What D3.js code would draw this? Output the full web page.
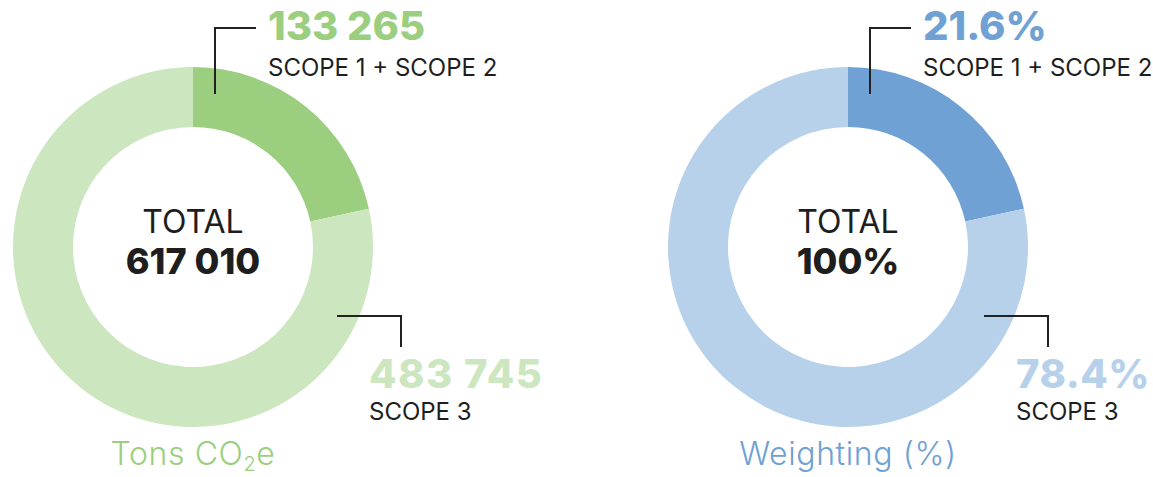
<!DOCTYPE html>
<html lang="en">
	<head>
		<meta charset="UTF-8">
		<title>Emissions donuts</title>
		<script src="https://cdn.jsdelivr.net/npm/d3@7/dist/d3.min.js"></script>
		<style>
			body { margin: 0; background: #fff; }
			text { font-family: Inter, "Open Sans", sans-serif; }
		</style>
	</head>
	<body>
		<svg id="chart" width="1153" height="477"></svg>
		<script>
// data
var scopeLabels = ["SCOPE 1 + SCOPE 2", "SCOPE 3"];
var tonsValues = [133265, 483745];
var weightValues = [21.6, 78.4];
var chartTitles = ["Tons CO", "Weighting (%)"];

var fmtTons = d3.formatLocale({decimal: ".", thousands: " ", grouping: [3], currency: ["", ""]}).format(",d");
var fmtPct = v => d3.format(".1f")(v) + "%";

var svg = d3.select("#chart");

var charts = [
	{values: tonsValues, title: chartTitles[0], sub: "2", tail: "e",
	 fmt: fmtTons, totalFmt: fmtTons, lowSpacing: 1.5,
	 colors: ["#9bcf7f", "#cce6c0"], cx: 193, lowDx: 0},
	{values: weightValues, title: chartTitles[1],
	 fmt: fmtPct, totalFmt: v => d3.format(".0f")(v) + "%", lowSpacing: 0.5,
	 colors: ["#6fa1d4", "#b7d1ea"], cx: 848, lowDx: -8}
];

var cy = 247, rOut = 180, rIn = 120;
var pie = d3.pie().sort(null);
var arc = d3.arc().innerRadius(rIn).outerRadius(rOut);

charts.forEach(function(c) {
	var g = svg.append("g").attr("transform", `translate(${c.cx},${cy})`);

	// donut slices
	g.selectAll("path").data(pie(c.values)).enter()
		.append("path")
		.attr("d", arc)
		.attr("fill", (d, i) => c.colors[i]);

	// centre total
	g.append("text").attr("text-anchor", "middle").attr("y", -14)
		.attr("font-size", 32).attr("fill", "#1e1e1e").text("TOTAL");
	g.append("text").attr("text-anchor", "middle").attr("y", 27)
		.attr("font-size", 36).attr("font-weight", 800).attr("fill", "#1e1e1e")
		.text(c.totalFmt(d3.sum(c.values)));

	// leader lines
	g.append("path").attr("fill", "none").attr("stroke", "#222").attr("stroke-width", 2)
		.attr("d", "M22,-153V-219H63");
	g.append("path").attr("fill", "none").attr("stroke", "#222").attr("stroke-width", 2)
		.attr("d", `M${144 + c.lowDx},69H${208 + c.lowDx}V100`);

	// slice labels
	g.append("text").attr("x", 75).attr("y", -207)
		.attr("font-size", 40).attr("font-weight", 800).attr("fill", c.colors[0])
		.text(c.fmt(c.values[0]));
	g.append("text").attr("x", 75).attr("y", -171)
		.attr("font-size", 24).attr("fill", "#1e1e1e").text(scopeLabels[0]);
	g.append("text").attr("x", 176 + c.lowDx).attr("y", 141)
		.attr("font-size", 40).attr("font-weight", 800).attr("fill", c.colors[1])
		.attr("letter-spacing", c.lowSpacing)
		.text(c.fmt(c.values[1]));
	g.append("text").attr("x", 176 + c.lowDx).attr("y", 173)
		.attr("font-size", 24).attr("fill", "#1e1e1e").text(scopeLabels[1]);

	// chart title
	var t = g.append("text").attr("text-anchor", "middle").attr("y", 218)
		.attr("font-size", 32).attr("font-weight", 300).attr("fill", c.colors[0])
		.attr("letter-spacing", 0.6);
	t.append("tspan").text(c.title);
	if (c.sub) {
		t.append("tspan").attr("dy", 6).attr("font-size", 20).text(c.sub);
		t.append("tspan").attr("dy", -6).text(c.tail);
	}
});
		</script>
	</body>
</html>
